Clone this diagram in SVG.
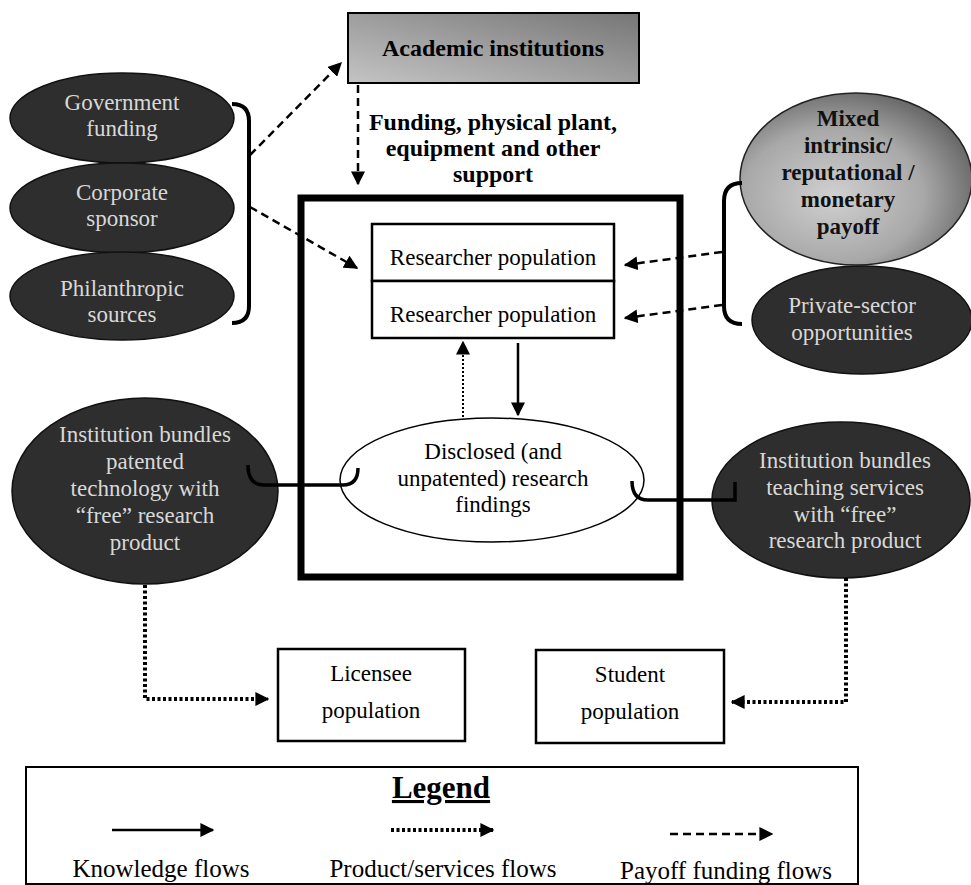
<svg xmlns="http://www.w3.org/2000/svg" width="971" height="885" viewBox="0 0 971 885">
<defs>
  <marker id="ah" viewBox="0 0 10 10" refX="9" refY="5" markerWidth="14" markerHeight="14" markerUnits="userSpaceOnUse" orient="auto">
    <path d="M0,0 L10,5 L0,10 z" fill="#000"/>
  </marker>
  <linearGradient id="gAcad" x1="0" y1="1" x2="1" y2="0">
    <stop offset="0" stop-color="#c4c4c4"/>
    <stop offset="1" stop-color="#767676"/>
  </linearGradient>
  <radialGradient id="gMixed" cx="0.4" cy="0.6" r="0.65">
    <stop offset="0" stop-color="#d0d0d0"/>
    <stop offset="0.6" stop-color="#a8a8a8"/>
    <stop offset="1" stop-color="#646464"/>
  </radialGradient>
  <style>
    text { font-family: "Liberation Serif", "Times New Roman", serif; text-anchor: middle; }
    .reg { font-size: 23px; fill: #000; }
    .light { font-size: 23px; fill: #d8d8d8; }
    .bold { font-size: 24px; font-weight: bold; fill: #000; }
    .mix { font-size: 23px; font-weight: bold; fill: #111; }
    .dark { fill: #2e2e2e; stroke: #111; stroke-width: 1.5; }
    .box { fill: #fff; stroke: #000; stroke-width: 2.5; }
    .dash { fill: none; stroke: #000; stroke-width: 2.5; stroke-dasharray: 8 5; }
    .dot { fill: none; stroke: #000; stroke-width: 4; stroke-dasharray: 3 2.5; }
    .thindot { fill: none; stroke: #000; stroke-width: 2; stroke-dasharray: 2 2; }
    .solid { fill: none; stroke: #000; stroke-width: 2.5; }
    .brace { fill: none; stroke: #000; stroke-width: 4; }
  </style>
</defs>
<rect width="971" height="885" fill="#fff"/>

<g id="academic">
  <rect x="348" y="13" width="291" height="70" fill="url(#gAcad)" stroke="#000" stroke-width="2"/>
  <text class="bold" x="493" y="56">Academic institutions</text>
</g>

<g id="support-label">
  <text class="bold" x="493" y="130">Funding, physical plant,</text>
  <text class="bold" x="493" y="156">equipment and other</text>
  <text class="bold" x="493" y="182">support</text>
</g>

<g id="gov">
  <ellipse class="dark" cx="122" cy="118" rx="112" ry="45"/>
  <text class="light" x="122" y="110">Government</text>
  <text class="light" x="122" y="136">funding</text>
</g>
<g id="corp">
  <ellipse class="dark" cx="122" cy="208" rx="112" ry="45"/>
  <text class="light" x="122" y="200">Corporate</text>
  <text class="light" x="122" y="226">sponsor</text>
</g>
<g id="phil">
  <ellipse class="dark" cx="122" cy="296" rx="112" ry="44"/>
  <text class="light" x="122" y="296">Philanthropic</text>
  <text class="light" x="122" y="322">sources</text>
</g>

<g id="mixed">
  <ellipse cx="856" cy="179" rx="116" ry="86" fill="url(#gMixed)" stroke="#222" stroke-width="1.5"/>
  <text class="mix" x="848" y="126">Mixed</text>
  <text class="mix" x="848" y="153">intrinsic/</text>
  <text class="mix" x="848" y="180">reputational /</text>
  <text class="mix" x="848" y="207">monetary</text>
  <text class="mix" x="848" y="234">payoff</text>
</g>
<g id="private">
  <ellipse class="dark" cx="862" cy="320" rx="110" ry="54"/>
  <text class="light" x="852" y="313">Private-sector</text>
  <text class="light" x="852" y="340">opportunities</text>
</g>

<g id="core">
  <rect x="301" y="198" width="379" height="379" fill="none" stroke="#000" stroke-width="7"/>
</g>
<g id="researcher1">
  <rect class="box" x="372" y="224" width="242" height="57" stroke-width="2"/>
  <text class="reg" x="493" y="265">Researcher population</text>
</g>
<g id="researcher2">
  <rect class="box" x="372" y="281" width="242" height="57" stroke-width="2"/>
  <text class="reg" x="493" y="322">Researcher population</text>
</g>
<g id="findings">
  <ellipse cx="492" cy="480" rx="152" ry="62" fill="#fff" stroke="#000" stroke-width="1.5"/>
  <text class="reg" x="493" y="459">Disclosed (and</text>
  <text class="reg" x="493" y="486">unpatented) research</text>
  <text class="reg" x="493" y="512">findings</text>
</g>

<g id="patent">
  <ellipse class="dark" cx="145" cy="491" rx="133" ry="93"/>
  <text class="light" x="145" y="442">Institution bundles</text>
  <text class="light" x="145" y="469">patented</text>
  <text class="light" x="145" y="496">technology with</text>
  <text class="light" x="145" y="523">“free” research</text>
  <text class="light" x="145" y="550">product</text>
</g>
<g id="teaching">
  <ellipse class="dark" cx="841" cy="500" rx="129" ry="78"/>
  <text class="light" x="845" y="468">Institution bundles</text>
  <text class="light" x="845" y="495">teaching services</text>
  <text class="light" x="845" y="522">with “free”</text>
  <text class="light" x="845" y="548">research product</text>
</g>

<g id="licensee">
  <rect class="box" x="278" y="649" width="187" height="92"/>
  <text class="reg" x="371" y="681">Licensee</text>
  <text class="reg" x="371" y="718">population</text>
</g>
<g id="student">
  <rect class="box" x="536" y="650" width="188" height="93"/>
  <text class="reg" x="630" y="682">Student</text>
  <text class="reg" x="630" y="719">population</text>
</g>

<g id="connectors">
  <path class="brace" d="M232,104 q17,0 17,17 V306 q0,17 -17,17"/>
  <path class="brace" d="M742,183 q-18,0 -18,18 V306 q0,18 18,18"/>
  <line class="dash" x1="250" y1="155" x2="341" y2="63" marker-end="url(#ah)"/>
  <line class="dash" x1="250" y1="207" x2="357" y2="268" marker-end="url(#ah)"/>
  <line class="dash" x1="358" y1="85" x2="358" y2="184" marker-end="url(#ah)"/>
  <line class="dash" x1="722" y1="252" x2="625" y2="265" marker-end="url(#ah)"/>
  <line class="dash" x1="722" y1="305" x2="625" y2="318" marker-end="url(#ah)"/>
  <line class="solid" x1="518" y1="343" x2="518" y2="415" marker-end="url(#ah)"/>
  <line class="thindot" x1="463" y1="417" x2="463" y2="342" marker-end="url(#ah)"/>
  <path fill="none" stroke="#000" stroke-width="3.5" d="M248,465 q0,20 16,20 H343 q15,0 15,-17"/>
  <path fill="none" stroke="#000" stroke-width="3.5" d="M632,481 q0,19 16,19 H735 V482"/>
  <path class="dot" d="M145,585 V699 H268" marker-end="url(#ah)"/>
  <path class="dot" d="M846,578 V702 H732" marker-end="url(#ah)"/>
</g>

<g id="legend">
  <rect x="26" y="767" width="832" height="117" fill="none" stroke="#000" stroke-width="2"/>
  <text x="441" y="798" font-size="31" font-weight="bold" text-decoration="underline">Legend</text>
  <line class="solid" x1="112" y1="830" x2="213" y2="830" marker-end="url(#ah)"/>
  <line class="dot" x1="391" y1="830" x2="493" y2="830" marker-end="url(#ah)"/>
  <line class="dash" x1="670" y1="834" x2="772" y2="834" marker-end="url(#ah)"/>
  <text x="161" y="877" font-size="25">Knowledge flows</text>
  <text x="443" y="877" font-size="25">Product/services flows</text>
  <text x="726" y="879" font-size="25">Payoff funding flows</text>
</g>
</svg>
